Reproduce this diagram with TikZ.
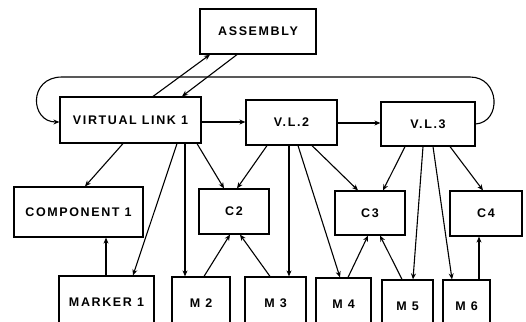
\documentclass[tikz,border=0pt]{standalone}
\usepackage{fontspec}
\newfontfamily\lbl{Liberation Sans}[LetterSpace=13]
\usetikzlibrary{arrows.meta}
\tikzset{
  box/.style={draw, line width=1.2pt, rectangle, inner sep=0pt, font=\lbl\bfseries\fontsize{12.5}{14}\selectfont},
  arr/.style={line width=1.1pt, -{Stealth[length=6pt,width=5pt]}},
}
\begin{document}
\begin{tikzpicture}[x=1pt,y=-1pt]
\useasboundingbox (0,0) rectangle (526,321);
\clip (0,0) rectangle (526,321);
\node[box, minimum width=116pt, minimum height=45pt] (asm) at (258,31.5) {ASSEMBLY};
\node[box, minimum width=141pt, minimum height=46pt] (vl1) at (130.5,120) {VIRTUAL LINK 1};
\node[box, minimum width=91pt, minimum height=45pt] (vl2) at (291.5,122.5) {V.L.2};
\node[box, minimum width=94pt, minimum height=44pt] (vl3) at (428,124) {V.L.3};
\node[box, minimum width=129pt, minimum height=50pt] (c1) at (78.5,212) {COMPONENT 1};
\node[box, minimum width=70pt, minimum height=45pt] (c2) at (234,211.5) {C2};
\node[box, minimum width=70pt, minimum height=44pt] (c3) at (370,213) {C3};
\node[box, minimum width=72pt, minimum height=45pt] (c4) at (486,213.5) {C4};
\node[box, minimum width=95pt, minimum height=52pt] (m1) at (106.5,302) {MARKER 1};
\node[box, minimum width=58pt, minimum height=52pt] (m2) at (201,303) {M 2};
\node[box, minimum width=61pt, minimum height=52pt] (m3) at (275.5,303) {M 3};
\node[box, minimum width=55pt, minimum height=52pt] (m4) at (343.5,304) {M 4};
\node[box, minimum width=51pt, minimum height=52pt] (m5) at (407.5,306) {M 5};
\node[box, minimum width=47pt, minimum height=52pt] (m6) at (466.5,306) {M 6};
% assembly links
\draw[arr] (vl1.north -| 153,0) -- (asm.south -| 210,0);
\draw[arr] (asm.south -| 237,0) -- (vl1.north -| 182,0);
% chain
\draw[arr] (vl1.east |- 0,122) -- (vl2.west |- 0,122);
\draw[arr] (vl2.east |- 0,123) -- (vl3.west |- 0,123);
\draw[arr] (vl3.east |- 0,124) .. controls (502,122) and (500,77) .. (470,77) -- (62,77) .. controls (28,77) and (30,122) .. (vl1.west |- 0,122);
% VL1
\draw[arr] (vl1.south -| 123,0) -- (c1.north -| 85,0);
\draw[arr] (vl1.south -| 177,0) -- (m1.north -| 133,0);
\draw[arr] (vl1.south -| 185,0) -- (m2.north -| 185,0);
\draw[arr] (vl1.south -| 197,0) -- (c2.north -| 224,0);
% VL2
\draw[arr] (vl2.south -| 267,0) -- (c2.north -| 237,0);
\draw[arr] (vl2.south -| 289,0) -- (m3.north -| 289,0);
\draw[arr] (vl2.south -| 298,0) -- (m4.north -| 340,0);
\draw[arr] (vl2.south -| 312,0) -- (c3.north -| 358,0);
% VL3
\draw[arr] (vl3.south -| 405,0) -- (c3.north -| 383,0);
\draw[arr] (vl3.south -| 423,0) -- (m5.north -| 413,0);
\draw[arr] (vl3.south -| 433,0) -- (m6.north -| 452,0);
\draw[arr] (vl3.south -| 450,0) -- (c4.north -| 483,0);
% markers up
\draw[arr] (m1.north -| 106,0) -- (c1.south -| 106,0);
\draw[arr] (m2.north -| 204,0) -- (c2.south -| 230,0);
\draw[arr] (m3.north -| 270,0) -- (c2.south -| 240,0);
\draw[arr] (m4.north -| 348,0) -- (c3.south -| 368,0);
\draw[arr] (m5.north -| 402,0) -- (c3.south -| 380,0);
\draw[arr] (m6.north -| 479,0) -- (c4.south -| 479,0);
\end{tikzpicture}
\end{document}
